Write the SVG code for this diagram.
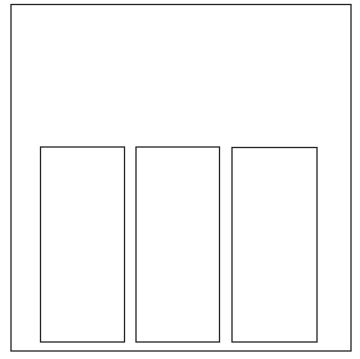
<svg xmlns="http://www.w3.org/2000/svg" width="360" height="359" viewBox="0 0 360 359">
<style>
rect{fill:none;stroke:#222;stroke-width:1.3}
</style>
<rect x="0" y="0" width="360" height="359" style="fill:#fff;stroke:none"/>
<g id="outer"><rect x="11" y="4.5" width="340" height="346.5"/></g>
<g id="box1"><rect x="40.5" y="147" width="84" height="195"/></g>
<g id="box2"><rect x="136" y="147" width="83.5" height="195"/></g>
<g id="box3"><rect x="232" y="147.5" width="85" height="194.5"/></g>
<g id="connectors"></g>
</svg>
